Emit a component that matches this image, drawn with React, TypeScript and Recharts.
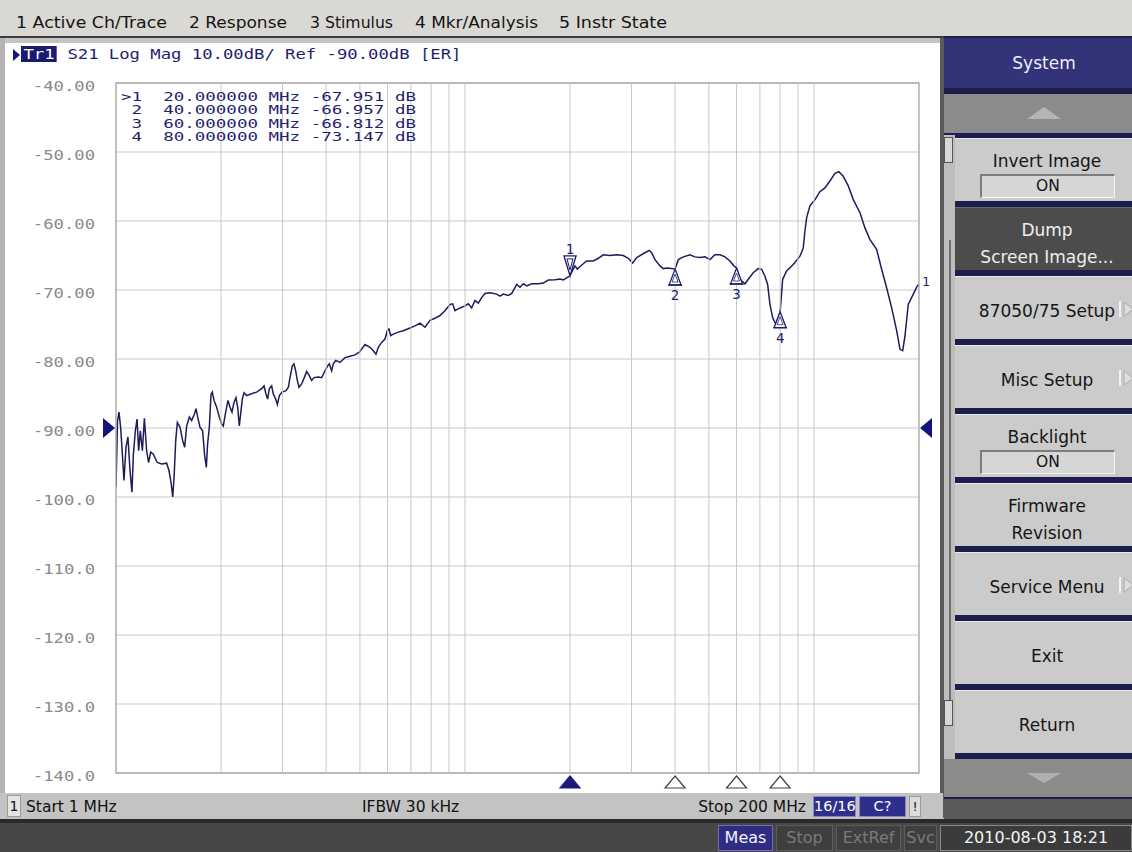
import React from 'react';
import { LineChart, Line, XAxis, YAxis, CartesianGrid, ReferenceDot, ReferenceArea } from 'recharts';

// ---------- data ----------
const traceFreqMHz = [
  1.0, 1.01, 1.02, 1.031, 1.04, 1.054, 1.068, 1.082, 1.097, 1.111,
  1.121, 1.136, 1.149, 1.161, 1.174, 1.19, 1.206, 1.224, 1.24, 1.257,
  1.279, 1.313, 1.352, 1.397, 1.419, 1.438, 1.454, 1.467, 1.483, 1.499,
  1.526, 1.552, 1.573, 1.594, 1.623, 1.648, 1.677, 1.695, 1.714, 1.741,
  1.771, 1.795, 1.815, 1.83, 1.851, 1.872, 1.888, 1.909, 1.943, 1.977,
  2.008, 2.03, 2.057, 2.094, 2.122, 2.15, 2.178, 2.207, 2.232, 2.256,
  2.276, 2.301, 2.327, 2.368, 2.421, 2.53, 2.615, 2.656, 2.691, 2.72,
  2.75, 2.793, 2.824, 2.868, 2.9, 2.938, 2.99, 3.07, 3.118, 3.152,
  3.201, 3.236, 3.272, 3.308, 3.345, 3.404, 3.464, 3.518, 3.58, 3.636,
  3.693, 3.8, 3.885, 3.971, 4.042, 4.086, 4.149, 4.195, 4.26, 4.384,
  4.531, 4.683, 4.84, 4.981,
  5.171, 5.344, 5.462, 5.559, 5.645, 5.771, 5.899, 5.991, 6.056, 6.124,
  6.232, 6.442, 6.658, 6.957, 7.19, 7.432, 7.681, 7.939, 8.204, 8.479,
  8.764, 9.058, 9.22, 9.362, 9.676, 10.0, 10.22, 10.45, 10.68, 10.92,
  11.16, 11.41, 11.79, 12.33, 12.6, 12.88, 13.31, 13.61, 13.82, 14.07,
  14.38, 14.7, 15.03, 15.53, 16.22, 16.76, 17.33, 18.11, 18.72, 19.13,
  20.0, 20.22, 20.67, 20.98, 21.36, 21.83, 22.32, 23.32, 24.1, 24.91,
  26.03, 27.21, 28.42, 29.37, 30.24, 31.05,
  32.79, 33.74, 34.27, 35.03, 36.21, 37.01, 38.0, 40.0, 40.86, 42.23,
  44.13, 45.6, 47.14, 48.72, 50.35, 52.03, 53.8, 55.59, 57.45, 58.98,
  60.0, 61.38, 63.44, 64.84, 66.99, 69.26, 70.82, 72.38, 73.68, 74.8,
  76.14, 77.83, 80.0, 81.35, 83.49, 87.22, 91.18, 93.18, 94.24, 95.3,
  97.39, 100.7, 104.0, 107.5, 111.1, 114.9, 117.9, 121.3, 125.4, 129.6,
  135.5, 140.0, 144.7, 151.2, 156.3, 161.6, 167.0, 172.6, 176.4, 179.6,
  182.3, 186.3, 192.6, 197.7, 200.0,
];
const traceDb = [
  -98.5, -89.0, -87.7, -89.9, -92.8, -97.6, -92.8, -91.3, -96.2, -99.3,
  -94.0, -90.4, -88.7, -93.3, -90.4, -93.3, -88.6, -93.3, -95.0, -93.5,
  -93.8, -95.0, -95.2, -95.1, -96.2, -97.9, -100.0, -97.1, -91.8, -89.2,
  -89.9, -91.8, -92.8, -89.7, -88.4, -88.9, -88.0, -87.2, -88.4, -89.9,
  -90.4, -94.0, -95.7, -92.3, -89.9, -85.1, -84.8, -86.0, -87.0, -88.4,
  -89.4, -89.7, -88.0, -86.0, -87.0, -87.7, -86.3, -85.6, -87.0, -89.7,
  -88.0, -85.8, -84.9, -85.3, -85.1, -84.8, -84.3, -83.9, -85.1, -85.8,
  -84.3, -83.9, -85.1, -85.8, -86.6, -85.3, -84.8, -84.6, -84.1, -82.7,
  -81.0, -80.7, -81.7, -83.1, -84.1, -83.6, -82.7, -81.8, -82.4, -83.1,
  -82.7, -82.6, -82.7, -81.7, -81.0, -80.7, -81.7, -80.7, -80.2, -80.5,
  -79.8, -79.6, -79.4, -79.0,
  -77.9, -78.3, -78.8, -79.3, -78.3, -77.6, -77.1, -75.9, -75.65, -76.6,
  -76.4, -76.1, -75.9, -75.5, -75.2, -74.8, -75.4, -74.4, -74.1, -73.7,
  -73.0, -72.1, -72.0, -73.0, -72.6, -72.3, -72.0, -72.6, -71.5, -71.9,
  -71.1, -70.5, -70.4, -70.6, -70.9, -70.6, -70.8, -70.5, -69.9, -69.2,
  -69.6, -69.1, -69.4, -69.1, -69.1, -69.0, -68.55, -68.5, -68.4, -68.55,
  -67.95, -67.4, -66.5, -66.96, -66.6, -66.2, -65.8, -65.8, -65.4, -64.9,
  -65.0, -64.9, -65.0, -65.4, -66.1, -65.3,
  -64.6, -64.25, -64.6, -65.6, -66.5, -66.9, -66.8, -66.96, -65.6, -65.2,
  -64.9, -65.2, -65.3, -65.2, -65.6, -64.9, -64.9, -65.2, -65.8, -66.5,
  -66.81, -68.45, -69.1, -68.45, -67.5, -66.9, -67.0, -68.0, -69.2, -72.1,
  -74.0, -75.0, -73.15, -68.45, -67.25, -66.3, -65.1, -63.9, -61.45, -59.5,
  -57.8, -56.9, -55.75, -55.2, -54.2, -53.1, -52.85, -53.5, -54.9, -56.9,
  -58.8, -61.0, -62.7, -64.1, -67.0, -69.7, -72.6, -75.9, -78.6, -78.8,
  -76.7, -72.1, -70.6, -69.4, -69.2,
];

const markerFreqMHz = [20, 40, 60, 80];
const markerDb = [-67.951, -66.957, -66.812, -73.147];
const activeMarker = 1;

const yTicks = [-140, -130, -120, -110, -100, -90, -80, -70, -60, -50, -40];
const xGridFreqs = [1, 2, 3, 4, 5, 6, 7, 8, 9, 10, 20, 30, 40, 50, 60, 70, 80, 90, 100, 200];

const startMHz = 1;
const stopMHz = 200;
const refLevelDb = -90;
const scaleDbPerDiv = 10;
const ifbwLabel = 'IFBW 30 kHz';

const menuLabels = ['1 Active Ch/Trace', '2 Response', '3 Stimulus', '4 Mkr/Analysis', '5 Instr State'];
const softkeyLines = [
  ['Invert Image'], ['Dump', 'Screen Image...'], ['87050/75 Setup'], ['Misc Setup'],
  ['Backlight'], ['Firmware', 'Revision'], ['Service Menu'], ['Exit'], ['Return'],
];
const softkeyStates = ['ON', '', '', '', 'ON', '', '', '', ''];
const softkeySubmenu = [false, false, true, true, false, false, true, false, false];
const softkeyDark = [false, true, false, false, false, false, false, false, false];
const softkeyTitle = 'System';
const statusLabels = ['Meas', 'Stop', 'ExtRef', 'Svc'];
const dateLabel = '2010-08-03 18:21';

// ---------- layout / styles ----------
const menuLeft = [16, 189, 310, 415, 559];
const menuWidth = [151, 98, 83, 123, 108];
const MONO = '"DejaVu Sans Mono", monospace';
const SANS = '"DejaVu Sans", sans-serif';
const NAVY = '#1f1f6e';
const TRACE = '#1d1d5c';

const traceData = traceFreqMHz.map((f, i) => ({ f, v: traceDb[i] }));

const YTick = (props: any) => {
  const { x, y, payload } = props;
  const v = payload.value as number;
  const label = v > -100 ? v.toFixed(2) : v.toFixed(1);
  return (
    <text
      transform={`translate(${x},${y + 8}) scale(1.23,1)`}
      textAnchor="end"
      fontFamily={MONO}
      fontSize={14}
      fill="#8a8a8a"
    >
      {label}
    </text>
  );
};

const MarkerShape = (idx: number) => (p: any) => {
  const { cx, cy } = p;
  if (idx + 1 === activeMarker) {
    return (
      <g>
        <polygon points={`${cx - 6},${cy - 20} ${cx + 6},${cy - 20} ${cx},${cy}`} fill="#fff" stroke={NAVY} strokeWidth={1.4} />
        <polygon points={`${cx - 3},${cy - 17} ${cx + 3},${cy - 17} ${cx},${cy - 6}`} fill="none" stroke={NAVY} strokeWidth={1} />
        <text x={cx} y={cy - 22} textAnchor="middle" fontFamily={MONO} fontSize={14} fill={NAVY}>{idx + 1}</text>
      </g>
    );
  }
  return (
    <g>
      <polygon points={`${cx},${cy} ${cx + 6},${cy + 16} ${cx - 6},${cy + 16}`} fill="#fff" stroke={NAVY} strokeWidth={1.3} />
      <line x1={cx - 7} y1={cy + 16} x2={cx + 7} y2={cy + 16} stroke={NAVY} strokeWidth={1.3} />
      <polygon points={`${cx},${cy + 5} ${cx + 3},${cy + 13} ${cx - 3},${cy + 13}`} fill="none" stroke={NAVY} strokeWidth={0.8} />
      <text x={cx} y={cy + 31} textAnchor="middle" fontFamily={MONO} fontSize={14} fill={NAVY}>{idx + 1}</text>
    </g>
  );
};

const StimShape = (idx: number) => (p: any) => {
  const { cx, cy } = p;
  const active = idx + 1 === activeMarker;
  return (
    <polygon
      points={`${cx},${cy + 3} ${cx + 10},${cy + 15} ${cx - 10},${cy + 15}`}
      fill={active ? '#1c1c78' : '#fff'}
      stroke={active ? '#1c1c78' : '#404040'}
      strokeWidth={1.2}
    />
  );
};

const RefLeft = (p: any) => (
  <polygon points={`${p.cx - 13},${p.cy - 10} ${p.cx - 13},${p.cy + 10} ${p.cx - 1},${p.cy}`} fill="#14147a" />
);
const RefRight = (p: any) => (
  <polygon points={`${p.cx + 13},${p.cy - 10} ${p.cx + 13},${p.cy + 10} ${p.cx + 1},${p.cy}`} fill="#14147a" />
);
const TraceEnd = (p: any) => (
  <text x={p.cx + 3} y={p.cy + 2} fontFamily={MONO} fontSize={13} fill={NAVY}>1</text>
);
const VGrid = (p: any) => (
  <line x1={p.cx} y1={p.cy} x2={p.cx} y2={p.cy - 690} stroke="#c8c8c8" strokeWidth={1} />
);

const abs = (l: number, t: number, w: number, h: number, extra: React.CSSProperties = {}): React.CSSProperties => ({
  position: 'absolute', left: l, top: t, width: w, height: h, ...extra,
});

function Softkey({ i }: { i: number }) {
  const top = 138 + 69 * i;
  const lines = softkeyLines[i];
  const dark = softkeyDark[i];
  const state = softkeyStates[i];
  const color = dark ? '#eeeeee' : '#151515';
  const textAt = (y: number, s: string, key: number) => (
    <div key={key} style={abs(0, y - 11, 184, 22, { textAlign: 'center', lineHeight: '22px', fontSize: 17, color, whiteSpace: 'pre' })}>{s}</div>
  );
  return (
    <div style={abs(955, top, 190, 63, {
      background: dark ? '#4c4c4c' : '#cbcbcb',
      borderTop: `1px solid ${dark ? '#6a6a6a' : '#e9e9e9'}`,
      boxSizing: 'border-box',
    })}>
      {lines.length === 2 && [textAt(22, lines[0], 0), textAt(49, lines[1], 1)]}
      {lines.length === 1 && state && [textAt(22, lines[0], 0)]}
      {lines.length === 1 && !state && [textAt(34, lines[0], 0)]}
      {state && (
        <div style={abs(25, 35, 135, 24, {
          background: '#d6d6d6', borderTop: '2px solid #7c7c7c', borderLeft: '2px solid #7c7c7c',
          borderBottom: '1px solid #f4f4f4', borderRight: '1px solid #f4f4f4', boxSizing: 'border-box',
          textAlign: 'center', lineHeight: '21px', fontSize: 15.5, color: '#151515',
        })}>{state}</div>
      )}
      {softkeySubmenu[i] && (
        <svg style={abs(164, 22, 16, 20)} width={16} height={20}>
          <line x1={1} y1={2} x2={1} y2={18} stroke="#f2f2f2" strokeWidth={2} />
          <polygon points="5,3 14,10 5,17" fill="#dedede" stroke="#a9a9a9" strokeWidth={1} />
        </svg>
      )}
    </div>
  );
}

export default function App() {
  const header = ` S21 Log Mag ${scaleDbPerDiv.toFixed(2)}dB/ Ref ${refLevelDb.toFixed(2)}dB [ER]`;
  const markerRows = markerFreqMHz.map((f, i) =>
    `${i + 1 === activeMarker ? '>' : ' '}${i + 1}  ${f.toFixed(6)} MHz ${markerDb[i].toFixed(3)} dB`);
  const last = traceData[traceData.length - 1];

  return (
    <div style={abs(0, 0, 1132, 852, { overflow: 'hidden', background: '#d9d7d2', fontFamily: SANS })}>
      {/* menu bar */}
      <div style={abs(0, 0, 1132, 36, { background: '#dad8d3' })} />
      <svg style={abs(0, 0, 700, 36)} width={700} height={36}>
        {menuLabels.map((m, i) => (
          <text key={m} x={menuLeft[i]} y={28} fontFamily={SANS} fontSize={16.5} fill="#141414"
            textLength={menuWidth[i]} lengthAdjust="spacingAndGlyphs">{m}</text>
        ))}
      </svg>
      <div style={abs(0, 36, 1132, 2, { background: '#3c3c3c' })} />

      {/* chart panel */}
      <div style={abs(0, 38, 943, 756, { background: '#ffffff' })} />
      <div style={abs(0, 38, 943, 5, { background: '#c4c4c4' })} />
      <div style={abs(0, 38, 5, 756, { background: '#b3b3b3' })} />
      <div style={abs(940, 38, 4, 780, { background: '#5a5a5a' })} />

      <div style={abs(0, 0, 942, 800)}>
        <LineChart width={942} height={800} data={traceData} margin={{ top: 83, right: 23, bottom: 26, left: 0 }}>
          <CartesianGrid stroke="#c8c8c8" strokeWidth={1} vertical={false} />
          <XAxis dataKey="f" type="number" scale="log" domain={[startMHz, stopMHz]} ticks={xGridFreqs}
            tick={false} axisLine={false} tickLine={false} height={1} allowDataOverflow interval={0} />
          <YAxis type="number" domain={[-140, -40]} ticks={yTicks} width={116} axisLine={false} tickLine={false}
            tickSize={0} tickMargin={21} interval={0} tick={(p: any) => <YTick {...p} />} />
          {xGridFreqs.map((f) => (
            <ReferenceDot key={`g${f}`} x={f} y={-140} r={0} shape={VGrid} />
          ))}
          <ReferenceArea x1={startMHz} x2={stopMHz} y1={-140} y2={-40} fill="none" stroke="#8c8c8c" strokeWidth={1.2} fillOpacity={0} />
          <Line dataKey="v" type="linear" stroke={TRACE} strokeWidth={1.5} dot={false} isAnimationActive={false} />
          {markerFreqMHz.map((f, i) => (
            <ReferenceDot key={`m${i}`} x={f} y={markerDb[i]} r={0} shape={MarkerShape(i)} />
          ))}
          {markerFreqMHz.map((f, i) => (
            <ReferenceDot key={`s${i}`} x={f} y={-140} r={0} shape={StimShape(i)} />
          ))}
          <ReferenceDot x={startMHz} y={refLevelDb} r={0} shape={RefLeft} />
          <ReferenceDot x={stopMHz} y={refLevelDb} r={0} shape={RefRight} />
          <ReferenceDot x={last.f} y={last.v} r={0} shape={TraceEnd} />
        </LineChart>
      </div>

      {/* trace header */}
      <svg style={abs(13, 48, 8, 14)} width={8} height={14}>
        <polygon points="0,1 7,7 0,13" fill="#14147a" />
      </svg>
      <div style={{ position: 'absolute', left: 21, top: 46, fontFamily: MONO, fontSize: 14, lineHeight: '17px', color: NAVY, whiteSpace: 'pre', transform: 'scaleX(1.23)', transformOrigin: 'left top' }}>
        <span style={{ background: '#1a1a72', color: '#ffffff', padding: '0 2px' }}>Tr1</span>{header}
      </div>

      {/* marker table */}
      <div style={{ position: 'absolute', left: 121, top: 90, fontFamily: MONO, fontSize: 12.5, lineHeight: '13.3px', color: NAVY, whiteSpace: 'pre', transform: 'scaleX(1.4)', transformOrigin: 'left top' }}>
        {markerRows.map((r) => <div key={r} style={{ height: 13.3 }}>{r}</div>)}
      </div>

      {/* bottom strip of chart panel */}
      <div style={abs(0, 793, 943, 26, { background: '#c3c3c3' })} />
      <div style={abs(7, 795, 14, 22, { background: '#e4e4e4', border: '1px solid #9a9a9a', boxSizing: 'border-box', textAlign: 'center', lineHeight: '20px', fontSize: 14, color: '#111' })}>1</div>
      <div style={abs(26, 796, 200, 22, { fontSize: 15.5, lineHeight: '22px', color: '#111', whiteSpace: 'pre' })}>{`Start ${startMHz} MHz`}</div>
      <div style={abs(362, 796, 200, 22, { fontSize: 15.5, lineHeight: '22px', color: '#111', whiteSpace: 'pre' })}>{ifbwLabel}</div>
      <div style={abs(606, 796, 200, 22, { fontSize: 15.5, lineHeight: '22px', color: '#111', whiteSpace: 'pre', textAlign: 'right' })}>{`Stop ${stopMHz} MHz`}</div>
      <div style={abs(813, 796, 43, 21, { background: '#2e2e8c', border: '1px solid #8a8ac0', boxSizing: 'border-box', textAlign: 'center', lineHeight: '19px', fontSize: 14.5, color: '#fff' })}>16/16</div>
      <div style={abs(859, 796, 47, 21, { background: '#2e2e8c', border: '1px solid #8a8ac0', boxSizing: 'border-box', textAlign: 'center', lineHeight: '19px', fontSize: 14.5, color: '#fff' })}>C?</div>
      <div style={abs(909, 796, 12, 21, { background: '#dcdcdc', border: '1px solid #999', boxSizing: 'border-box', textAlign: 'center', lineHeight: '19px', fontSize: 13, color: '#222' })}>!</div>

      {/* status bar */}
      <div style={abs(0, 819, 1132, 4, { background: '#2a2a2a' })} />
      <div style={abs(0, 823, 1132, 29, { background: '#474747' })} />
      <div style={abs(718, 825, 55, 26, { background: '#2d2d84', border: '1px solid #6f6fa8', boxSizing: 'border-box', textAlign: 'center', lineHeight: '24px', fontSize: 16, color: '#f2f2f2' })}>{statusLabels[0]}</div>
      <div style={abs(776, 825, 57, 26, { background: '#3f3f3f', border: '1px solid #5c5c5c', boxSizing: 'border-box', textAlign: 'center', lineHeight: '24px', fontSize: 16, color: '#7a7a7a' })}>{statusLabels[1]}</div>
      <div style={abs(836, 825, 65, 26, { background: '#3f3f3f', border: '1px solid #5c5c5c', boxSizing: 'border-box', textAlign: 'center', lineHeight: '24px', fontSize: 16, color: '#7a7a7a' })}>{statusLabels[2]}</div>
      <div style={abs(904, 825, 33, 26, { background: '#3f3f3f', border: '1px solid #5c5c5c', boxSizing: 'border-box', textAlign: 'center', lineHeight: '24px', fontSize: 16, color: '#7a7a7a' })}>{statusLabels[3]}</div>
      <div style={abs(940, 825, 192, 26, { background: '#3b3b3b', border: '1px solid #8a8a8a', boxSizing: 'border-box', textAlign: 'center', lineHeight: '24px', fontSize: 16, color: '#f4f4f4' })}>{dateLabel}</div>

      {/* right softkey panel */}
      <div style={abs(944, 36, 188, 764, { background: '#1d1d4e' })} />
      <div style={abs(944, 38, 200, 50, { background: '#33337a', textAlign: 'center', lineHeight: '50px', fontSize: 17, color: '#ececf4' })}>{softkeyTitle}</div>
      <div style={abs(944, 94, 200, 39, { background: '#8b8b8b' })}>
        <svg style={abs(82, 12, 36, 14)} width={36} height={14}><polygon points="18,1 35,13 1,13" fill="#b6b6b6" /></svg>
      </div>
      <div style={abs(944, 135, 11, 625, { background: '#bdbdbd' })} />
      <div style={abs(944, 137, 9, 26, { background: '#d8d8d8', border: '1px solid #555', boxSizing: 'border-box' })} />
      <div style={abs(949, 240, 2, 480, { background: '#6e6e6e' })} />
      <div style={abs(944, 700, 9, 26, { background: '#d8d8d8', border: '1px solid #555', boxSizing: 'border-box' })} />
      {softkeyLines.map((_, i) => <Softkey key={i} i={i} />)}
      <div style={abs(944, 759, 200, 38, { background: '#8b8b8b' })}>
        <svg style={abs(82, 13, 36, 12)} width={36} height={12}><polygon points="1,1 35,1 18,11" fill="#b0b0b0" /></svg>
      </div>
      <div style={abs(944, 799, 188, 20, { background: '#5b5b5b' })} />
    </div>
  );
}
